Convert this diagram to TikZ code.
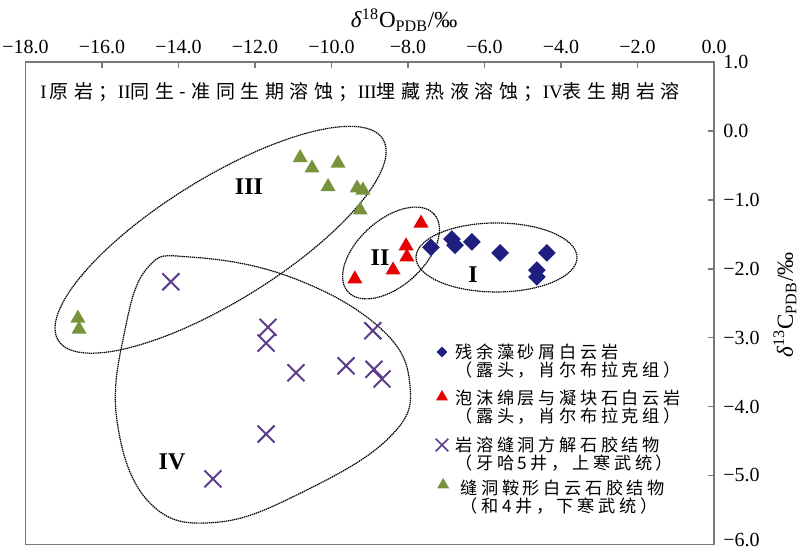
\documentclass[tikz,border=0pt]{standalone}
\usepackage{fontspec}
\setmainfont{Liberation Serif}
\newfontfamily\cjk[LetterSpace=21]{Noto Sans CJK SC}
\newfontfamily\cjkhead[LetterSpace=29]{Noto Sans CJK SC}
\usetikzlibrary{shapes.geometric,shapes.misc,positioning}

\definecolor{dolo}{RGB}{31,31,128}
\definecolor{foam}{RGB}{230,0,0}
\definecolor{calcite}{RGB}{94,60,140}
\definecolor{saddle}{RGB}{119,147,60}
\definecolor{axisgray}{RGB}{120,120,120}

\tikzset{
  dia/.style={diamond, fill=dolo, inner sep=0pt, minimum size=9pt},
  tri/.style={regular polygon, regular polygon sides=3, inner sep=0pt, minimum size=8.7pt},
  xmark/.style={cross out, draw=calcite, line width=1pt, inner sep=0pt, minimum size=7.5pt},
  zone/.style={dash pattern=on 0.7pt off 0.35pt, line width=0.6pt},
  rom/.style={font=\fontsize{12}{12}\selectfont\bfseries},
  ticklab/.style={font=\fontsize{10}{10}\selectfont, inner sep=0.5pt},
  lgtext/.style={anchor=west, align=left, inner sep=0pt, font=\cjk\fontsize{8.6}{9}\selectfont}
}

\begin{document}
\begin{tikzpicture}[x=19.125pt, y=34.45pt]
\useasboundingbox (-18.667,-6.112) rectangle (2.248,1.900);
% frame and ticks
\draw[axisgray, line width=0.8pt] (-18,-6) rectangle (0,1);
\foreach \x in {-16,-14,...,-2} \draw[axisgray, line width=0.8pt] (\x,1) -- ++(0,-3pt);
\foreach \y in {0,-1,...,-5} \draw[axisgray, line width=0.8pt] (0,\y) -- ++(-3pt,0);
\foreach \x/\t in {-18/−18.0,-16/−16.0,-14/−14.0,-12/−12.0,-10/−10.0,-8/−8.0,-6/−6.0,-4/−4.0,-2/−2.0,0/0.0}
  \node[ticklab] (tx\x) at (\x,1.218) {\t};
\foreach \y/\t in {1/1.0,0/0.0,-1/−1.0,-2/−2.0,-3/−3.0,-4/−4.0,-5/−5.0}
  \node[ticklab, anchor=west] (ty\y) at (0.209,\y) {\t};
\node[ticklab, anchor=west] (ty-6) at (0.209,-5.94) {−6.0};
\node[font=\fontsize{11.5}{12}\selectfont] (xlab) at (-8.1,1.61) {\textit{δ}\textsuperscript{18}O\textsubscript{PDB}/‰};
\node[font=\fontsize{11.5}{12}\selectfont, rotate=90] (ylab) at (1.856,-2.527) {\textit{δ}\textsuperscript{13}C\textsubscript{PDB}/‰};
\node[anchor=west, font=\cjkhead\fontsize{9.5}{10}\selectfont, inner sep=0pt] (head) at (-17.62,0.565)
  {{\rmfamily I}\,原岩；{\rmfamily II}同生-准同生期溶蚀；{\rmfamily III}埋藏热液溶蚀；{\rmfamily IV}表生期岩溶};

% zones
\draw[zone] (-5.686,-1.837) ellipse [x radius=40.25pt, y radius=17.25pt];
\draw[zone, rotate around={42:(-8.444,-1.772)}] (-8.444,-1.772) ellipse [x radius=29pt, y radius=16.5pt];
\draw[zone, rotate around={31.8:(-12.90,-1.58)}] (-12.90,-1.58) ellipse [x radius=95.5pt, y radius=30.75pt];
\draw[zone] plot[smooth cycle, tension=0.7] coordinates {(-13.70,-1.83) (-11.08,-2.12) (-8.73,-2.86) (-7.95,-3.69) (-8.47,-4.44) (-10.64,-5.21) (-12.99,-5.68) (-14.75,-5.40) (-15.61,-4.20) (-15.40,-2.89) (-14.80,-1.98)};
\node[rom] (zI) at (-6.301,-2.091) {I};
\node[rom] (zII) at (-8.732,-1.845) {II};
\node[rom] (zIII) at (-12.157,-0.814) {III};
\node[rom] (zIV) at (-14.170,-4.806) {IV};

% data
\foreach \p [count=\i] in {(-7.40,-1.69),(-6.85,-1.57),(-6.77,-1.66),(-6.33,-1.61),(-5.59,-1.77),(-4.37,-1.77),(-4.63,-2.02),(-4.63,-2.12)}
  \node[dia] (d\i) at \p {};
\foreach \p [count=\i] in {(-7.66,-1.34),(-8.05,-1.67),(-8.03,-1.83),(-8.39,-2.02),(-9.39,-2.15)}
  \node[tri, fill=foam] (r\i) at \p {};
\foreach \p [count=\i] in {(-14.20,-2.19),(-11.66,-2.85),(-11.71,-3.08),(-8.92,-2.90),(-10.93,-3.51),(-9.62,-3.41),(-8.89,-3.46),(-8.68,-3.60),(-11.71,-4.40),(-13.10,-5.05)}
  \node[xmark] (c\i) at \p {};
\foreach \p [count=\i] in {(-10.82,-0.39),(-10.51,-0.54),(-9.83,-0.47),(-10.09,-0.81),(-9.33,-0.83),(-9.18,-0.86),(-9.25,-1.15),(-16.63,-2.72),(-16.60,-2.88)}
  \node[tri, fill=saddle] (g\i) at \p {};

% legend
\node[dia, minimum size=5.5pt] (lgI) at (-7.111,-3.209) {};
\node[tri, fill=foam, minimum size=7pt] (lgII) at (-7.111,-3.862) {};
\node[xmark, minimum size=5.5pt, line width=0.8pt] (lgIII) at (-7.111,-4.559) {};
\node[tri, fill=saddle, minimum size=7pt] (lgIV) at (-7.08,-5.139) {};
\node[lgtext] (tI) at (-6.771,-3.340) {残余藻砂屑白云岩\\（露头，肖尔布拉克组）};
\node[lgtext] (tII) at (-6.771,-4.007) {泡沫绵层与凝块石白云岩\\（露头，肖尔布拉克组）};
\node[lgtext] (tIII) at (-6.771,-4.689) {岩溶缝洞方解石胶结物\\（牙哈5井，上寒武统）};
\node[lgtext] (tIV) at (-6.64,-5.313) {缝洞鞍形白云石胶结物\\（和4井，下寒武统）};
\end{tikzpicture}
\end{document}
